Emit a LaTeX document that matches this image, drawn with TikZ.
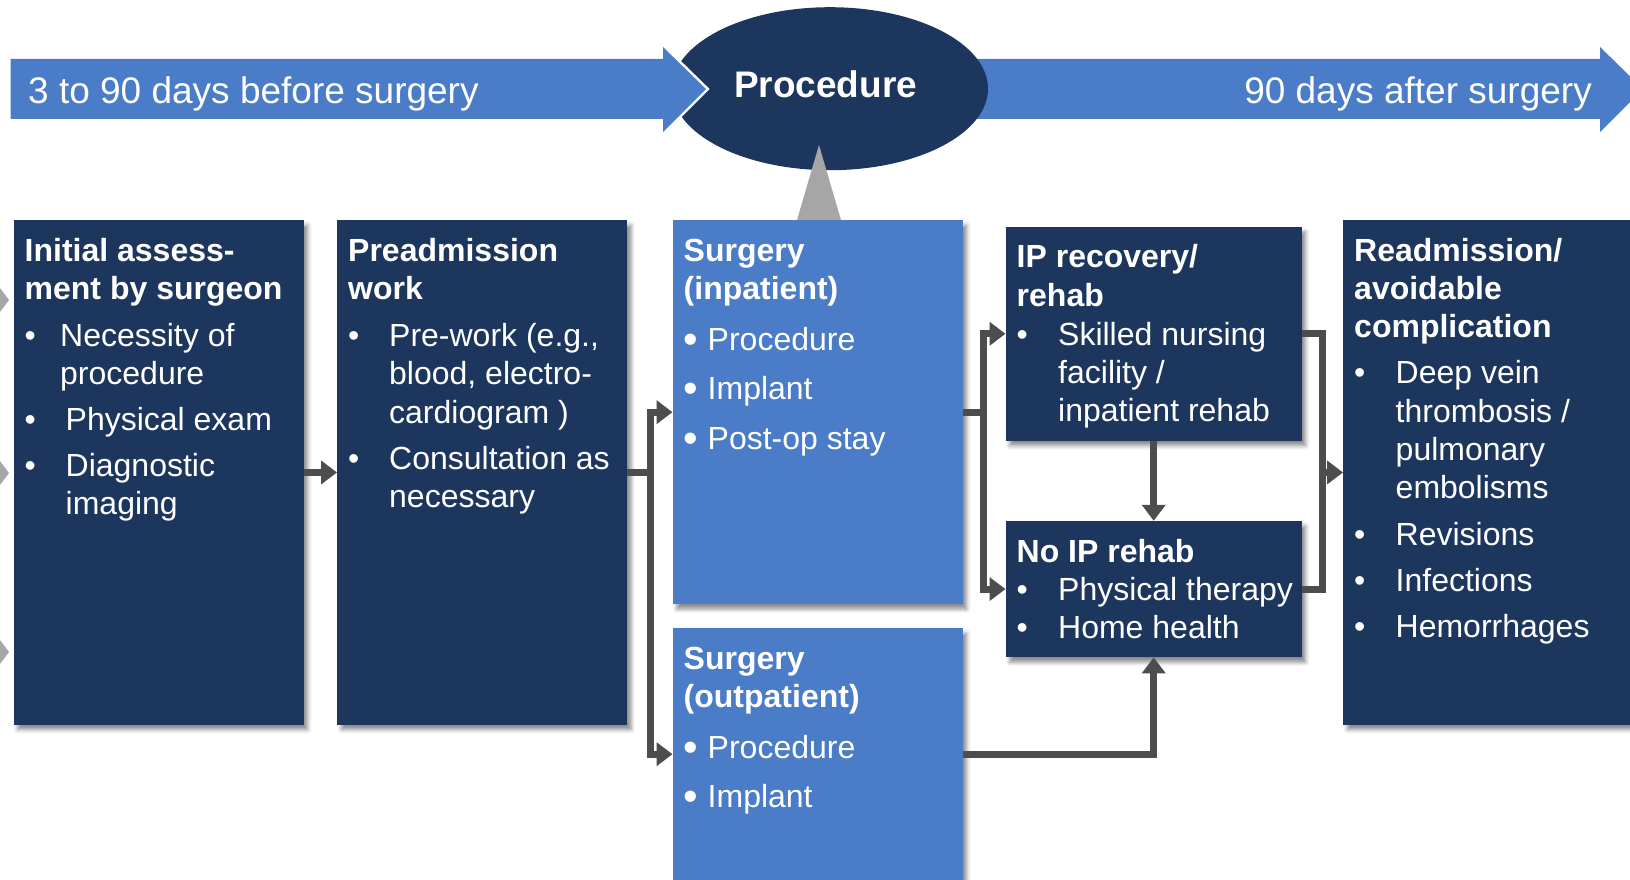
\documentclass[tikz,border=0pt]{standalone}
\usepackage{fontspec}
\setmainfont{Liberation Sans}
\usetikzlibrary{arrows.meta,calc,shapes.geometric,shadows.blur}

\definecolor{navy}{HTML}{1D365E}
\definecolor{lblue}{HTML}{4A7CC7}
\definecolor{cgray}{HTML}{4D4D4D}
\definecolor{pgray}{HTML}{A6A6A6}

% bullet that reserves a given indent, and a matching blank indent
\newcommand\bl[1]{\makebox[#1][l]{•}}
\newcommand\bigbl[1]{\makebox[#1][l]{\raisebox{-3pt}{\scalebox{1.3}{•}}}}
\newcommand\ind[1]{\hspace*{#1}}
\newcommand\fl{\rule{0pt}{30pt}}

\begin{document}
\begin{tikzpicture}[x=1pt,y=-1pt,
  boxshadow/.style={blur shadow={shadow xshift=4pt,shadow yshift=-5pt,
      shadow blur radius=4pt,shadow opacity=45}},
  darkbox/.style={fill=navy,draw=none,inner sep=0pt,anchor=north west,boxshadow},
  lightbox/.style={fill=lblue,draw=none,inner sep=0pt,anchor=north west,boxshadow},
  txt/.style={anchor=north west,inner sep=0pt,align=left,text=white,
      font=\fontsize{32}{38.2}\selectfont},
  banner/.style={text=white,inner sep=0pt,font=\fontsize{37}{44}\selectfont},
  conn/.style={draw=cgray,line width=7pt},
  arr/.style={conn,-{Triangle[length=16pt,width=23pt]}},
]
\useasboundingbox (0,0) rectangle (1630,880);

% timeline banner: arrow after the procedure, ellipse, arrow before it
\fill[lblue] (930,59) -- (1600,59) -- (1600,47) -- (1643,89) -- (1600,132)
  -- (1600,119) -- (930,119) -- cycle;
\node[ellipse,fill=navy,minimum width=316pt,minimum height=163pt,inner sep=0pt]
  (proc) at (830,88.7) {};
\draw[white,line width=5pt,line join=miter] (663,47) -- (706,89) -- (663,132);
\fill[lblue] (10.5,59) -- (663,59) -- (663,47) -- (706,89) -- (663,132)
  -- (663,119) -- (10.5,119) -- cycle;
\node[banner,anchor=base west] (before) at (28,103.3) {3 to 90 days before surgery};
\node[banner,anchor=base east] (after) at (1592,103.3) {90 days after surgery};
\node[banner,anchor=base,font=\fontsize{37}{44}\selectfont\bfseries]
  (proctext) at (825.5,97.3) {Procedure};

% pointer from the procedure to the inpatient surgery box
\fill[pgray] (819,145) -- (841,220) -- (797,220) -- cycle;

% arrow tips entering from the left margin
\foreach \yy in {300,473,652}
  \fill[gray!70] (9,\yy) -- (-25,\yy-45) -- (-25,\yy+45) -- cycle;

% boxes
\node[darkbox,minimum width=290pt,minimum height=504.5pt] (b1) at (13.5,220) {};
\node[darkbox,minimum width=290pt,minimum height=504.5pt] (b2) at (337,220) {};
\node[lightbox,minimum width=290pt,minimum height=384pt] (b3) at (672.5,220) {};
\node[lightbox,minimum width=290pt,minimum height=252pt] (b4) at (672.5,628) {};
\node[darkbox,minimum width=296pt,minimum height=214pt] (b5) at (1005.5,226.6) {};
\node[darkbox,minimum width=296pt,minimum height=136.2pt] (b6) at (1005.5,520.8) {};
\node[darkbox,minimum width=320pt,minimum height=504.5pt] (b7) at (1343,220) {};

% box texts
\node[txt] (t1) at ($(b1.north west)+(11,11)$) {%
  \fl\textbf{Initial assess-}\\
  \textbf{ment by surgeon}\\[8.5pt]
  \bl{35.5pt}Necessity of\\
  \ind{35.5pt}procedure\\[7.5pt]
  \bl{41pt}Physical exam\\[8pt]
  \bl{41pt}Diagnostic\\
  \ind{41pt}imaging};

\node[txt] (t2) at ($(b2.north west)+(11,11)$) {%
  \fl\textbf{Preadmission}\\
  \textbf{work}\\[9pt]
  \bl{41pt}Pre-work (e.g.,\\
  \ind{41pt}blood, electro-\\
  \ind{41pt}cardiogram )\\[8pt]
  \bl{41pt}Consultation as\\
  \ind{41pt}necessary};

\node[txt] (t3) at ($(b3.north west)+(11,11)$) {%
  \fl\textbf{Surgery}\\
  \textbf{(inpatient)}\\[13pt]
  \bigbl{24pt}Procedure\\[11pt]
  \bigbl{24pt}Implant\\[11pt]
  \bigbl{24pt}Post-op stay};

\node[txt] (t4) at ($(b4.north west)+(11,11)$) {%
  \fl\textbf{Surgery}\\
  \textbf{(outpatient)}\\[13pt]
  \bigbl{24pt}Procedure\\[11pt]
  \bigbl{24pt}Implant};

\node[txt] (t5) at ($(b5.north west)+(11,11)$) {%
  \fl\textbf{IP recovery/}\\
  \textbf{rehab}\\[1pt]
  \bl{41.5pt}Skilled nursing\\
  \ind{41.5pt}facility /\\
  \ind{41.5pt}inpatient rehab};

\node[txt] (t6) at ($(b6.north west)+(11,11)$) {%
  \fl\textbf{No IP rehab}\\
  \bl{41.5pt}Physical therapy\\
  \bl{41.5pt}Home health};

\node[txt] (t7) at ($(b7.north west)+(11,11)$) {%
  \fl\textbf{Readmission/}\\
  \textbf{avoidable}\\
  \textbf{complication}\\[8pt]
  \bl{41.5pt}Deep vein\\
  \ind{41.5pt}thrombosis /\\
  \ind{41.5pt}pulmonary\\
  \ind{41.5pt}embolisms\\[8.5pt]
  \bl{41.5pt}Revisions\\[8pt]
  \bl{41.5pt}Infections\\[8pt]
  \bl{41.5pt}Hemorrhages};

% connectors
\coordinate (j1) at ($(b2.east)+(23,0)$);
\coordinate (j2) at ($(b3.east)+(20.5,0)$);
\coordinate (j3) at ($(b7.west)+(-21,0)$);

\draw[arr] (b1.east) -- (b2.west);
\draw[conn] (b2.east) -- (j1);
\draw[arr] (j1) |- (b3.west);
\draw[arr] (j1) |- (b4.west);
\draw[conn] (b3.east) -- (j2);
\draw[arr] (j2) |- (b5.west);
\draw[arr] (j2) |- (b6.west);
\draw[arr] (b5.south) -- (b6.north);
\draw[arr] (b4.east) -| (b6.south);
\draw[conn,line join=miter] (b5.east) -| (j3) |- (b6.east);
\draw[arr] (j3) -- (b7.west);
\end{tikzpicture}
\end{document}
